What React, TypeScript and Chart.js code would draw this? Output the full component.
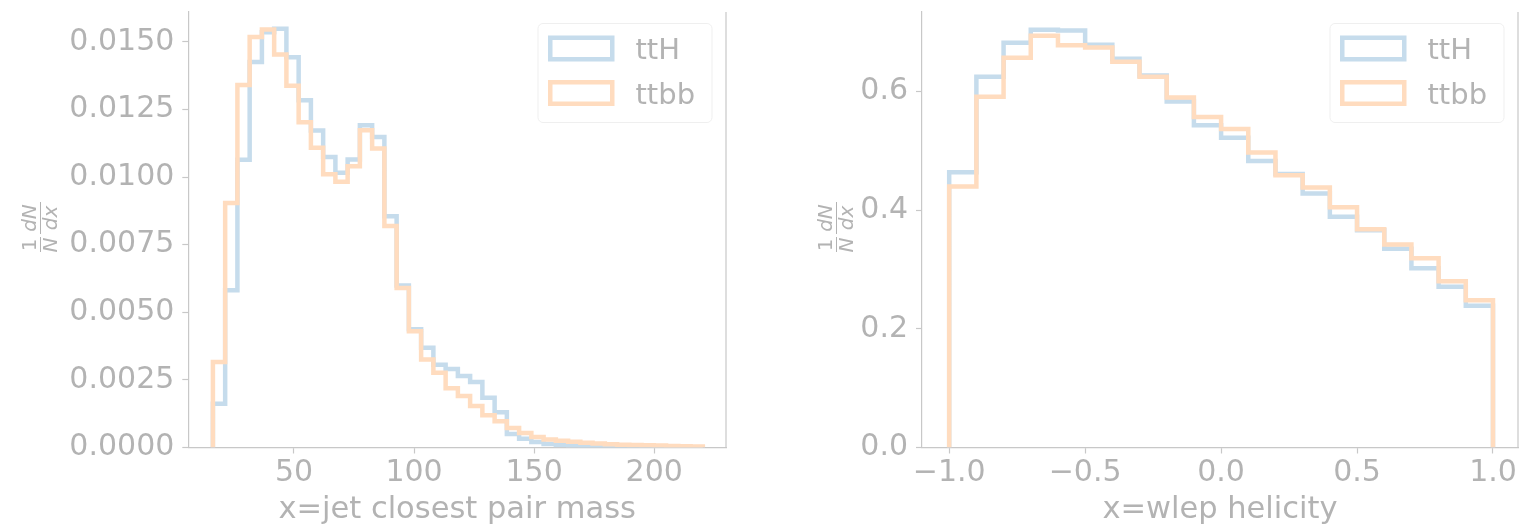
import React, { useEffect, useRef } from 'react';
import { Chart, registerables } from 'chart.js';

Chart.register(...registerables);

// ---------------- data ----------------
const seriesLabels = ['ttH', 'ttbb'];

// left panel: jet closest pair mass (40 bins)
const jetBinStart = 16.25;
const jetBinWidth = 5.1;
const jetTtH = [
  0.00162, 0.00581, 0.01064, 0.01425, 0.01535, 0.01548, 0.01443, 0.01284, 0.01172, 0.01074,
  0.01016, 0.01065, 0.01191, 0.01148, 0.00855, 0.00599, 0.00437, 0.00369, 0.00306, 0.0029,
  0.00264, 0.00242, 0.00184, 0.0013, 0.0005, 0.00032, 0.0002, 0.00013, 0.00009, 0.00007,
  0.00005, 0.00004, 0.00003, 0.00003, 0.00002, 0.00002, 0.00001, 0.00001, 0.00001, 0.00001,
];
const jetTtbb = [
  0.00316, 0.00904, 0.0134, 0.01518, 0.01545, 0.01453, 0.01337, 0.01202, 0.01108, 0.0101,
  0.00982, 0.0104, 0.01173, 0.01105, 0.00819, 0.0059, 0.0043, 0.00325, 0.00276, 0.00219,
  0.0019, 0.00153, 0.00119, 0.00097, 0.00072, 0.00054, 0.00039, 0.0003, 0.00025, 0.00021,
  0.00018, 0.00015, 0.00012, 0.0001, 0.00009, 0.00008, 0.00007, 0.00006, 0.00005, 0.00004,
];
const jetXTicks = [50, 100, 150, 200];
const jetYTicks = [0, 0.0025, 0.005, 0.0075, 0.01, 0.0125, 0.015];

// right panel: wlep helicity (20 bins)
const helBinStart = -1;
const helBinWidth = 0.1;
const helTtH = [
  0.464, 0.625, 0.682, 0.704, 0.703, 0.679, 0.655, 0.627, 0.583, 0.543,
  0.522, 0.483, 0.461, 0.428, 0.389, 0.366, 0.335, 0.302, 0.271, 0.239,
];
const helTtbb = [
  0.44, 0.591, 0.657, 0.694, 0.678, 0.674, 0.65, 0.625, 0.59, 0.557,
  0.537, 0.497, 0.459, 0.438, 0.405, 0.368, 0.342, 0.319, 0.28, 0.248,
];
const helXTicks = [-1, -0.5, 0, 0.5, 1];
const helYTicks = [0, 0.2, 0.4, 0.6];

// ---------------- styles ----------------
const FONT = '"DejaVu Sans", Verdana, sans-serif';
const TEXT = '#b3b3b3';
const SPINE = '#c8c8c8';
const BLUE = '#c6dcec';
const ORANGE = '#ffdcbf';

function stepPoints(start: number, width: number, values: number[]) {
  const pts: { x: number; y: number }[] = [{ x: start, y: 0 }];
  values.forEach((v, i) => pts.push({ x: start + i * width, y: v }));
  pts.push({ x: start + values.length * width, y: 0 });
  return pts;
}

const rightSpinePlugin = {
  id: 'rightSpine',
  afterDraw(chart: any) {
    const { ctx, chartArea } = chart;
    ctx.save();
    ctx.strokeStyle = SPINE;
    ctx.lineWidth = 1.2;
    ctx.beginPath();
    ctx.moveTo(chartArea.right, chartArea.top);
    ctx.lineTo(chartArea.right, chartArea.bottom);
    ctx.stroke();
    ctx.restore();
  },
};

const boxLegendPlugin = {
  id: 'boxLegend',
  afterDraw(chart: any) {
    const { ctx, chartArea } = chart;
    const w = 174;
    const h = 99;
    const left = chartArea.right - 14 - w;
    const top = chartArea.top + 11.5;
    const r = 5;
    ctx.save();
    ctx.beginPath();
    ctx.moveTo(left + r, top);
    ctx.lineTo(left + w - r, top);
    ctx.arcTo(left + w, top, left + w, top + r, r);
    ctx.lineTo(left + w, top + h - r);
    ctx.arcTo(left + w, top + h, left + w - r, top + h, r);
    ctx.lineTo(left + r, top + h);
    ctx.arcTo(left, top + h, left, top + h - r, r);
    ctx.lineTo(left, top + r);
    ctx.arcTo(left, top, left + r, top, r);
    ctx.closePath();
    ctx.fillStyle = 'rgba(255,255,255,0.8)';
    ctx.fill();
    ctx.strokeStyle = '#efefef';
    ctx.lineWidth = 1;
    ctx.stroke();
    const lw = 4.5;
    chart.data.datasets.forEach((ds: any, i: number) => {
      const sy = top + 12 + i * 44.5;
      const sx = left + 10;
      ctx.strokeStyle = ds.borderColor;
      ctx.lineWidth = lw;
      ctx.lineJoin = 'miter';
      ctx.strokeRect(sx + lw / 2, sy + lw / 2, 66.5 - lw, 26 - lw);
      ctx.fillStyle = TEXT;
      ctx.font = `29px ${FONT}`;
      ctx.textAlign = 'left';
      ctx.textBaseline = 'alphabetic';
      ctx.fillText(ds.label, left + 97.5, top + 35.7 + i * 45);
    });
    ctx.restore();
  },
};

const fracLabelPlugin = {
  id: 'fracLabel',
  afterDraw(chart: any, _args: any, opts: any) {
    const { ctx } = chart;
    ctx.save();
    ctx.translate(opts.cx, opts.cy);
    ctx.rotate(-Math.PI / 2);
    ctx.fillStyle = TEXT;
    ctx.strokeStyle = TEXT;
    ctx.lineWidth = 1;
    ctx.textAlign = 'center';
    ctx.textBaseline = 'alphabetic';
    const up = `20px ${FONT}`;
    const it = `italic 20px ${FONT}`;
    // 1 / N
    ctx.font = up;
    ctx.fillText('1', -18, -4);
    ctx.font = it;
    ctx.fillText('N', -18, 17);
    ctx.beginPath();
    ctx.moveTo(-25, 0.5);
    ctx.lineTo(-10, 0.5);
    ctx.stroke();
    // dN / dx
    ctx.fillText('dN', 9, -4);
    ctx.fillText('dx', 9, 17);
    ctx.beginPath();
    ctx.moveTo(-7, 0.5);
    ctx.lineTo(25, 0.5);
    ctx.stroke();
    ctx.restore();
  },
};

function makeConfig(p: {
  edgesStart: number;
  binWidth: number;
  a: number[];
  b: number[];
  xMin: number;
  xMax: number;
  yMax: number;
  xTicks: number[];
  yTicks: number[];
  xFmt: (v: number) => string;
  yFmt: (v: number) => string;
  xTitle: string;
  yWidth: number;
  padRight: number;
  labelCx: number;
}) {
  const tickFont = { family: FONT, size: 30 };
  const grid = {
    display: true,
    drawOnChartArea: false,
    drawTicks: true,
    tickLength: 6,
    tickColor: SPINE,
    tickWidth: 1.2,
  };
  const border = { display: true, color: SPINE, width: 1.2 };
  const ds = (label: string, values: number[], color: string, order: number) => ({
    label,
    data: stepPoints(p.edgesStart, p.binWidth, values),
    borderColor: color,
    borderWidth: 4.5,
    stepped: 'before' as const,
    pointRadius: 0,
    fill: false,
    order,
    borderJoinStyle: 'miter' as const,
    borderCapStyle: 'butt' as const,
  });
  return {
    type: 'line' as const,
    data: {
      datasets: [ds(seriesLabels[0], p.a, BLUE, 2), ds(seriesLabels[1], p.b, ORANGE, 1)],
    },
    options: {
      responsive: false,
      animation: false as const,
      events: [],
      layout: { padding: { top: 12, right: p.padRight, left: 0, bottom: 0 } },
      plugins: {
        legend: { display: false },
        tooltip: { enabled: false },
        fracLabel: { cx: p.labelCx, cy: 227 },
      },
      scales: {
        x: {
          type: 'linear' as const,
          min: p.xMin,
          max: p.xMax,
          afterBuildTicks: (s: any) => {
            s.ticks = p.xTicks.map((v) => ({ value: v }));
          },
          afterFit: (s: any) => {
            s.height = 77.5;
            s.paddingLeft = 0;
            s.paddingRight = 0;
            s.paddingTop = 0;
            s.paddingBottom = 0;
          },
          ticks: {
            color: TEXT,
            font: tickFont,
            padding: 2,
            maxRotation: 0,
            autoSkip: false,
            callback: (v: any) => p.xFmt(Number(v)),
          },
          grid,
          border,
          title: {
            display: true,
            text: p.xTitle,
            color: TEXT,
            font: { family: FONT, size: 30.5 },
            padding: { top: 0, bottom: -3.5 },
          },
        },
        y: {
          type: 'linear' as const,
          min: 0,
          max: p.yMax,
          afterBuildTicks: (s: any) => {
            s.ticks = p.yTicks.map((v) => ({ value: v }));
          },
          afterFit: (s: any) => {
            s.width = p.yWidth;
            s.paddingLeft = 0;
            s.paddingRight = 0;
            s.paddingTop = 0;
            s.paddingBottom = 0;
          },
          ticks: {
            color: TEXT,
            font: tickFont,
            padding: 8,
            autoSkip: false,
            callback: (v: any) => p.yFmt(Number(v)),
          },
          grid,
          border,
        },
      },
    },
    plugins: [rightSpinePlugin, boxLegendPlugin, fracLabelPlugin],
  };
}

const minusFmt = (v: number) => (v < 0 ? '\u2212' + Math.abs(v).toFixed(1) : v.toFixed(1));

const leftConfig = () =>
  makeConfig({
    edgesStart: jetBinStart,
    binWidth: jetBinWidth,
    a: jetTtH,
    b: jetTtbb,
    xMin: 6.0,
    xMax: 229.9,
    yMax: 0.0161,
    xTicks: jetXTicks,
    yTicks: jetYTicks,
    xFmt: (v) => String(Math.round(v)),
    yFmt: (v) => v.toFixed(4),
    xTitle: 'x=jet closest pair mass',
    yWidth: 188.3,
    padRight: 34,
    labelCx: 40,
  });

const rightConfig = () =>
  makeConfig({
    edgesStart: helBinStart,
    binWidth: helBinWidth,
    a: helTtH,
    b: helTtbb,
    xMin: -1.1,
    xMax: 1.092,
    yMax: 0.734,
    xTicks: helXTicks,
    yTicks: helYTicks,
    xFmt: minusFmt,
    yFmt: (v) => v.toFixed(1),
    xTitle: 'x=wlep helicity',
    yWidth: 162,
    padRight: 2,
    labelCx: 76,
  });

function Panel({ left, build }: { left: number; build: () => any }) {
  const ref = useRef<HTMLCanvasElement>(null);
  useEffect(() => {
    if (!ref.current) return;
    const chart = new Chart(ref.current, build());
    return () => chart.destroy();
  }, []);
  return (
    <canvas
      ref={ref}
      width={760}
      height={525}
      style={{ position: 'absolute', left, top: 0, width: 760, height: 525, display: 'block' }}
    />
  );
}

export default function App() {
  if (typeof document !== 'undefined') {
    document.body.style.margin = '0';
  }
  return (
    <div style={{ position: 'relative', width: 1520, height: 525, overflow: 'hidden', background: '#ffffff' }}>
      <Panel left={0} build={leftConfig} />
      <Panel left={760} build={rightConfig} />
    </div>
  );
}
